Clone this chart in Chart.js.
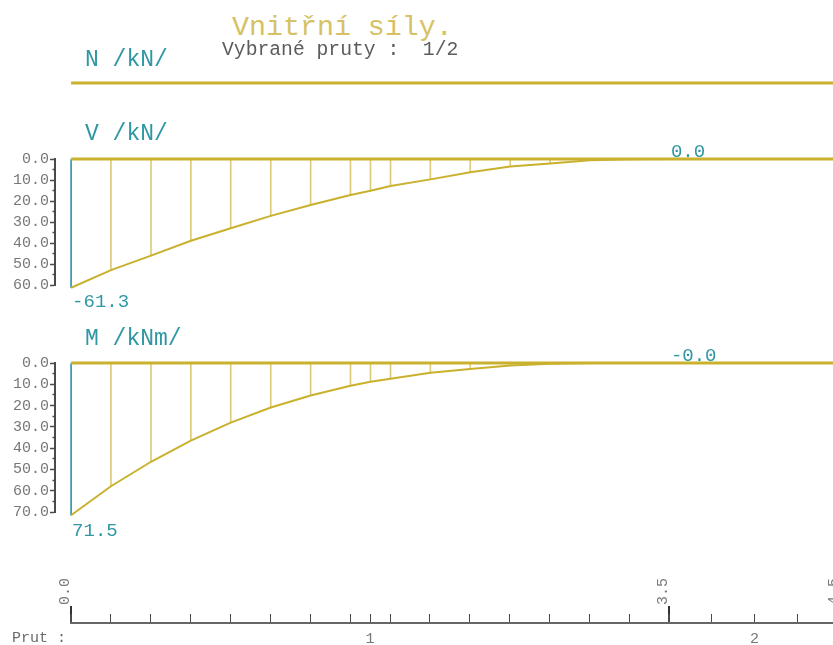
<!DOCTYPE html>
<html>
<head>
<meta charset="utf-8">
<script src="https://cdn.jsdelivr.net/npm/chart.js@4.4.1/dist/chart.umd.min.js"></script>
<style>
    body { margin: 0; background: #fff; overflow: hidden; }
    #page { position: relative; width: 833px; height: 645px; overflow: hidden; font-family: 'Liberation Mono', monospace; }
    #page canvas { position: absolute; left: 0; }
    .txt { position: absolute; white-space: pre; }
    .teal { color: #2f97a4; font-size: 23px; line-height: 23px; }
</style>
</head>
<body>
<div id="page">
    <canvas id="nChart" width="841" height="26" style="top:70px"></canvas>
    <canvas id="vChart" width="841" height="170" style="top:140px"></canvas>
    <canvas id="mChart" width="841" height="200" style="top:340px"></canvas>
    <canvas id="axisChart" width="841" height="85" style="top:560px"></canvas>

    <div class="txt" style="left:232px; top:13px; font-size:28.3px; line-height:28px; color:#d6c264;">Vnitřní síly.</div>
    <div class="txt" style="left:222px; top:41px; font-size:19.7px; line-height:19px; color:#5c5c5c;">Vybrané pruty :  1/2</div>
    <div class="txt teal" style="left:85px; top:49px;">N /kN/</div>
    <div class="txt teal" style="left:85px; top:123px;">V /kN/</div>
    <div class="txt teal" style="left:85px; top:328px;">M /kNm/</div>
    <div class="txt" style="left:12px; top:631px; font-size:15px; line-height:15px; color:#6a6a6a;">Prut :</div>
</div>
<script>
// stations along the members (m)
const stations = [0, 0.233, 0.467, 0.7, 0.933, 1.167, 1.4, 1.633, 1.75, 1.867,
    2.1, 2.333, 2.567, 2.8, 3.033, 3.267, 3.5, 3.75, 4.0, 4.25, 4.5];
const memberEnds = [0.0, 3.5, 4.5];
const memberMids = [1.75, 4.0];
const memberNames = ['1', '2'];

const nValues = [0, 0, 0, 0, 0, 0, 0, 0, 0, 0, 0, 0, 0, 0, 0, 0, 0, 0, 0, 0, 0];
const vValues = [-61.3, -52.9, -46.0, -38.9, -33.0, -27.1, -21.9, -17.1, -15.1, -12.9,
    -9.7, -6.3, -3.6, -2.1, -0.6, -0.1, 0.0, 0, 0, 0, 0];
const mValues = [71.5, 57.9, 46.4, 36.5, 28.0, 20.9, 15.3, 10.7, 8.8, 7.4,
    4.6, 2.8, 1.2, 0.3, 0.0, 0.0, -0.02, 0, 0, 0, 0];

const vAxisRange = [-60, 0];
const mAxisRange = [0, 70];
// indices of stations that get a value label
const labelledStations = [0, 16];

const GOLD = '#c9b12e';
const HATCH = '#dccb78';
const TEAL = '#2f97a4';
const AXIS = '#4a4a4a';
const TICKTEXT = '#777';

Chart.defaults.font.family = "'Liberation Mono', monospace";

const valueLabels = {
    id: 'valueLabels',
    afterDatasetsDraw(chart, args, opts) {
        if (!opts.values) {
            return;
        }
        const ctx = chart.ctx;
        const x = chart.scales.x, y = chart.scales.y;
        ctx.save();
        ctx.font = "19px 'Liberation Mono'";
        ctx.fillStyle = TEAL;
        ctx.textAlign = 'left';
        labelledStations.forEach(i => {
            const v = opts.values[i];
            const px = x.getPixelForValue(stations[i]);
            const py = y.getPixelForValue(v);
            if (Math.abs(v) > 1) {
                ctx.textBaseline = 'top';
                ctx.fillText(v.toFixed(1), px + 1, py + opts.gap);
            } else {
                ctx.textBaseline = 'alphabetic';
                ctx.fillText(v.toFixed(1), px + 1, py - 2);
            }
        });
        ctx.restore();
    }
};

function points(values) {
    return stations.map((s, i) => ({x: s, y: values[i]}));
}

function panel(id, values, yScale, padding, gap) {
    return new Chart(document.getElementById(id), {
        type: 'line',
        data: {
            datasets: [
                {
                    // zero line
                    data: stations.map(s => ({x: s, y: 0})),
                    borderColor: GOLD,
                    borderWidth: 3,
                    pointRadius: 0,
                    clip: false,
                    order: 0
                },
                {
                    data: points(values),
                    borderColor: GOLD,
                    borderWidth: 2,
                    pointRadius: 0,
                    tension: 0,
                    clip: false,
                    order: 1
                },
                {
                    type: 'bar',
                    data: points(values),
                    backgroundColor: stations.map((s, i) => i === 0 ? TEAL : HATCH),
                    barThickness: 1,
                    borderWidth: 0,
                    clip: false,
                    order: 2
                }
            ]
        },
        options: {
            animation: false,
            responsive: false,
            layout: {padding: padding},
            plugins: {
                legend: {display: false},
                tooltip: {enabled: false},
                valueLabels: {values: values, gap: gap}
            },
            scales: {
                x: {type: 'linear', display: false, min: -0.094, max: 4.5, offset: false},
                y: yScale
            }
        },
        plugins: [valueLabels]
    });
}

function valueAxis(range, reverse) {
    return {
        min: range[0],
        max: range[1],
        reverse: reverse,
        afterFit: s => { s.width = 55; },
        border: {display: true, color: AXIS, width: 2},
        grid: {
            drawOnChartArea: false,
            tickLength: 5,
            tickColor: AXIS,
            tickWidth: 1.5,
            tickBorderDash: c => (c.tick && c.tick.value % 10 !== 0) ? [0, 2.5, 2.5, 0] : []
        },
        ticks: {
            stepSize: 5,
            autoSkip: false,
            padding: 1,
            color: TICKTEXT,
            font: {size: 15},
            callback: v => v % 10 === 0 ? Math.abs(v).toFixed(1) : ''
        }
    };
}

new Chart(document.getElementById('nChart'), {
    type: 'line',
    data: {
        datasets: [{
            data: points(nValues),
            borderColor: GOLD,
            borderWidth: 3,
            pointRadius: 0,
            clip: false
        }]
    },
    options: {
        animation: false,
        responsive: false,
        layout: {padding: {left: 55, right: 0, top: 0, bottom: 0}},
        plugins: {legend: {display: false}, tooltip: {enabled: false}},
        scales: {
            x: {type: 'linear', display: false, min: -0.094, max: 4.5},
            y: {display: false, min: -1, max: 1}
        }
    }
});

panel('vChart', vValues, valueAxis(vAxisRange, false), {left: 0, right: 0, top: 19, bottom: 25}, 5);
panel('mChart', mValues, valueAxis(mAxisRange, true), {left: 0, right: 0, top: 23, bottom: 28}, 6);

const isEnd = v => memberEnds.includes(v);

new Chart(document.getElementById('axisChart'), {
    type: 'line',
    data: {datasets: []},
    options: {
        animation: false,
        responsive: false,
        layout: {padding: {left: 71, right: 0, top: 0, bottom: 0}},
        plugins: {legend: {display: false}, tooltip: {enabled: false}},
        scales: {
            y: {display: false},
            x: {
                type: 'linear',
                position: 'top',
                min: 0,
                max: 4.5,
                afterBuildTicks: s => { s.ticks = stations.map(v => ({value: v})); },
                afterFit: s => { s.height = 54; },
                border: {display: false},
                grid: {
                    drawOnChartArea: true,
                    tickLength: 8,
                    color: AXIS,
                    lineWidth: c => isEnd(c.tick.value) ? 2 : 1,
                    tickColor: c => isEnd(c.tick.value) ? '#333' : 'rgba(0,0,0,0)',
                    tickWidth: 2
                },
                ticks: {
                    autoSkip: false,
                    minRotation: 90,
                    maxRotation: 90,
                    padding: 1,
                    labelOffset: 12,
                    color: TICKTEXT,
                    font: {size: 15},
                    callback: v => isEnd(v) ? v.toFixed(1) : ''
                }
            },
            xb: {
                type: 'linear',
                position: 'bottom',
                min: 0,
                max: 4.5,
                afterBuildTicks: s => { s.ticks = memberMids.map(v => ({value: v})); },
                afterFit: s => { s.height = 22; },
                border: {display: true, color: '#666', width: 2},
                grid: {display: true, drawOnChartArea: false, drawTicks: false},
                ticks: {
                    autoSkip: false,
                    padding: 7,
                    color: TICKTEXT,
                    font: {size: 15},
                    callback: (v, i) => memberNames[i]
                }
            }
        }
    }
});
</script>
</body>
</html>
